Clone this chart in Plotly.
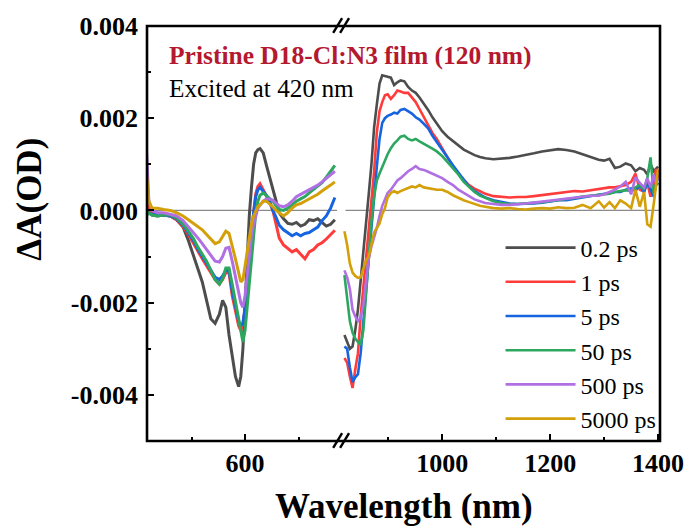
import plotly.graph_objects as go

# ---------------- data (ΔA in units of 1e-3 OD) ----------------
labels = ["0.2 ps", "1 ps", "5 ps", "50 ps", "500 ps", "5000 ps"]
colors = ["#4D4D4D", "#FF3B3B", "#1764E0", "#2DA760", "#B06FE3", "#D4A00A"]

wl_vis = [508, 510, 513, 518, 524, 530, 536, 542, 547, 552, 556, 560, 564, 568, 572, 576, 579, 582,
          585, 588, 591, 594, 596, 598, 600, 602, 604, 606, 608, 610, 612, 614, 617, 620, 623, 626,
          629, 632, 636, 640, 644, 648, 652, 656, 660, 664, 668, 672, 676, 680, 684]

vis_02ps = [0.0, -0.05, -0.1, -0.12, -0.1, -0.12, -0.2, -0.36, -0.65, -0.98, -1.25, -1.55, -1.95, -2.35,
            -2.45, -2.25, -1.95, -2.1, -2.7, -3.2, -3.6, -3.82, -3.6, -3.0, -2.0, -0.95, -0.1, 0.5, 1.0,
            1.25, 1.32, 1.34, 1.25, 0.98, 0.72, 0.5, 0.2, -0.05, -0.18, -0.28, -0.3, -0.26, -0.34, -0.3,
            -0.2, -0.22, -0.18, -0.26, -0.34, -0.3, -0.2]
vis_1ps = [0.2, 0.05, -0.05, -0.08, -0.1, -0.12, -0.2, -0.35, -0.52, -0.72, -0.9, -1.05, -1.2, -1.35,
           -1.5, -1.6, -1.5, -1.35, -1.35, -1.85, -2.2, -2.5, -2.6, -2.45, -2.15, -1.7, -1.08, -0.5,
           -0.05, 0.36, 0.52, 0.58, 0.45, 0.32, 0.18, 0.0, -0.28, -0.6, -0.75, -0.82, -0.9, -0.85,
           -0.95, -1.05, -0.9, -0.85, -0.75, -0.7, -0.62, -0.52, -0.43]
vis_5ps = [-0.1, -0.05, -0.08, -0.1, -0.1, -0.12, -0.18, -0.32, -0.48, -0.66, -0.84, -1.0, -1.15, -1.3,
           -1.45, -1.5, -1.42, -1.3, -1.3, -1.75, -2.1, -2.4, -2.5, -2.45, -2.1, -1.6, -1.0, -0.45,
           -0.05, 0.3, 0.45, 0.5, 0.42, 0.32, 0.2, 0.0, -0.15, -0.32, -0.42, -0.48, -0.55, -0.5,
           -0.55, -0.5, -0.48, -0.42, -0.36, -0.22, -0.12, 0.05, 0.28]
vis_50ps = [-0.1, -0.05, -0.1, -0.12, -0.1, -0.1, -0.16, -0.3, -0.45, -0.62, -0.8, -0.95, -1.1, -1.3,
            -1.5, -1.6, -1.48, -1.25, -1.25, -1.6, -2.0, -2.35, -2.6, -2.85, -2.6, -2.1, -1.5, -0.95,
            -0.45, -0.05, 0.2, 0.33, 0.38, 0.32, 0.28, 0.2, 0.1, 0.02, 0.0, 0.05, 0.12, 0.2, 0.25,
            0.3, 0.38, 0.45, 0.52, 0.6, 0.72, 0.85, 0.98]
vis_500ps = [1.25, 0.2, 0.0, -0.05, -0.05, -0.08, -0.12, -0.22, -0.35, -0.48, -0.6, -0.72, -0.85,
             -0.98, -1.1, -1.12, -1.0, -0.82, -0.8, -1.1, -1.45, -1.8, -2.0, -2.1, -1.85, -1.4,
             -0.95, -0.55, -0.3, -0.1, 0.05, 0.12, 0.2, 0.25, 0.25, 0.22, 0.15, 0.1, 0.08, 0.12,
             0.2, 0.3, 0.35, 0.4, 0.45, 0.5, 0.55, 0.62, 0.7, 0.78, 0.85]
vis_5000ps = [0.75, 0.2, 0.05, 0.05, 0.02, 0.0, -0.05, -0.12, -0.2, -0.28, -0.35, -0.42, -0.52, -0.62,
              -0.72, -0.68, -0.55, -0.45, -0.5, -0.75, -1.05, -1.35, -1.55, -1.5, -1.2, -0.85,
              -0.55, -0.3, -0.12, 0.0, 0.08, 0.12, 0.2, 0.2, 0.15, 0.08, 0.0, -0.05, -0.12, -0.05,
              0.05, 0.12, 0.15, 0.2, 0.25, 0.3, 0.35, 0.42, 0.48, 0.55, 0.62]

wl_nir = [819, 824, 829, 834, 839, 844, 849, 854, 859, 864, 869, 874, 879, 884, 889, 894, 899, 905,
          911, 917, 923, 930, 937, 944, 951, 958, 966, 974, 982, 990, 1000, 1010, 1020, 1030, 1040,
          1050, 1060, 1070, 1080, 1095, 1110, 1125, 1140, 1155, 1170, 1185, 1200, 1215, 1230, 1245,
          1260, 1275, 1290, 1300, 1310, 1320, 1330, 1340, 1350, 1358, 1366, 1374, 1380, 1386, 1392,
          1396, 1400]

nir_02ps = [-2.7, -2.85, -3.0, -2.95, -2.6, -2.15, -1.55, -1.0, -0.3, 0.35, 1.0, 1.8, 2.3, 2.75, 2.93,
            2.92, 2.9, 2.88, 2.72, 2.78, 2.82, 2.8, 2.68, 2.6, 2.55, 2.45, 2.32, 2.18, 2.02, 1.88,
            1.72, 1.6, 1.5, 1.4, 1.32, 1.26, 1.2, 1.16, 1.13, 1.11, 1.12, 1.14, 1.17, 1.2, 1.24,
            1.28, 1.31, 1.33, 1.31, 1.28, 1.22, 1.16, 1.1, 1.08, 1.12, 0.92, 0.95, 1.02, 0.98, 0.85,
            0.92, 0.88, 0.78, 1.0, 0.85, 0.9, 0.95]
nir_1ps = [-3.2, -3.3, -3.6, -3.85, -3.45, -3.1, -2.3, -1.7, -1.05, -0.45, 0.2, 0.85, 1.7, 2.15, 2.35,
           2.5, 2.52, 2.42, 2.5, 2.6, 2.58, 2.55, 2.55, 2.45, 2.35, 2.2, 2.02, 1.85, 1.68, 1.55,
           1.35, 1.15, 0.95, 0.8, 0.66, 0.55, 0.47, 0.42, 0.36, 0.31, 0.29, 0.28, 0.29, 0.29, 0.31,
           0.33, 0.35, 0.37, 0.4, 0.42, 0.41, 0.44, 0.46, 0.48, 0.5, 0.5, 0.53, 0.55, 0.62, 0.8,
           0.45, 0.4, 0.6, 0.3, 0.55, 0.9, 0.7]
nir_5ps = [-2.95, -3.0, -3.4, -3.72, -3.62, -3.55, -3.1, -2.5, -1.75, -1.05, -0.35, 0.3, 0.95, 1.55,
           1.9, 2.0, 2.05, 2.08, 2.12, 2.1, 2.18, 2.2, 2.15, 2.1, 2.02, 1.97, 1.88, 1.78, 1.62,
           1.48, 1.32, 1.15, 0.98, 0.82, 0.66, 0.52, 0.42, 0.35, 0.28, 0.22, 0.18, 0.15, 0.14,
           0.14, 0.15, 0.17, 0.2, 0.22, 0.22, 0.25, 0.28, 0.3, 0.33, 0.35, 0.37, 0.4, 0.4, 0.45,
           0.48, 0.42, 0.55, 0.4, 0.62, 0.45, 0.3, 0.55, 0.6]
nir_50ps = [-1.4, -1.9, -2.4, -2.65, -2.78, -2.85, -2.92, -2.6, -1.75, -0.95, -0.25, 0.3, 0.65, 0.8,
            0.95, 1.1, 1.22, 1.35, 1.45, 1.52, 1.6, 1.62, 1.55, 1.52, 1.55, 1.5, 1.45, 1.4, 1.34,
            1.28, 1.18, 1.05, 0.92, 0.78, 0.62, 0.5, 0.4, 0.32, 0.27, 0.2, 0.16, 0.14, 0.14, 0.15,
            0.16, 0.18, 0.2, 0.22, 0.25, 0.27, 0.3, 0.32, 0.33, 0.35, 0.36, 0.4, 0.42, 0.44, 0.42,
            0.5, 0.55, 0.45, 0.7, 1.15, 0.35, 0.55, 0.6]
nir_500ps = [-1.3, -1.45, -1.7, -2.15, -2.3, -2.4, -2.33, -2.05, -1.55, -1.05, -0.78, -0.6, -0.38,
             -0.12, 0.1, 0.24, 0.38, 0.45, 0.55, 0.65, 0.7, 0.78, 0.85, 0.9, 0.96, 0.9, 0.88, 0.84,
             0.8, 0.76, 0.7, 0.62, 0.55, 0.45, 0.38, 0.3, 0.24, 0.2, 0.16, 0.14, 0.12, 0.12, 0.13,
             0.15, 0.17, 0.19, 0.22, 0.24, 0.25, 0.27, 0.3, 0.32, 0.32, 0.35, 0.4, 0.45, 0.52, 0.62,
             0.35, 0.72, 0.6, 0.5, 0.7, 0.5, 0.78, 0.6, 0.7]
nir_5000ps = [-0.45, -0.75, -1.15, -1.35, -1.42, -1.46, -1.45, -1.25, -1.08, -1.0, -0.7, -0.48, -0.38,
              -0.28, -0.08, 0.05, 0.28, 0.38, 0.42, 0.38, 0.42, 0.45, 0.48, 0.52, 0.5, 0.55, 0.5,
              0.48, 0.47, 0.45, 0.45, 0.4, 0.33, 0.27, 0.22, 0.18, 0.14, 0.1, 0.08, 0.05, 0.04,
              0.05, 0.03, 0.02, 0.04, 0.05, 0.04, 0.07, 0.05, 0.06, 0.12, 0.05, 0.2, 0.06, 0.18,
              0.05, 0.22, 0.15, 0.05, 0.45, 0.08, 0.4, -0.3, -0.35, 0.15, 0.6, 0.9]

vis_series = [vis_02ps, vis_1ps, vis_5ps, vis_50ps, vis_500ps, vis_5000ps]
nir_series = [nir_02ps, nir_1ps, nir_5ps, nir_50ps, nir_500ps, nir_5000ps]

y_ticks = [-0.004, -0.002, 0.0, 0.002, 0.004]
y_ticktext = ["-0.004", "-0.002", "0.000", "0.002", "0.004"]

# ---------------- geometry ----------------
W, H = 696, 531
L, R, T, B = 147, 31, 25, 90
PW, PH = W - L - R, H - T - B
BREAK_PX = 342
split = (BREAK_PX - L) / PW
VIS_RANGE = [508.3, 688.9]
NIR_RANGE = [811.0, 1403.5]

def px(x):
    return (x - L) / PW

def py(y):
    return (H - B - y) / PH

FONT = "Liberation Serif"

fig = go.Figure()
for i, lab in enumerate(labels):
    fig.add_trace(go.Scatter(x=wl_vis, y=[v * 1e-3 for v in vis_series[i]], mode="lines",
                             line=dict(color=colors[i], width=3.0), name=lab,
                             xaxis="x", yaxis="y", showlegend=False))
    fig.add_trace(go.Scatter(x=wl_nir, y=[v * 1e-3 for v in nir_series[i]], mode="lines",
                             line=dict(color=colors[i], width=2.6), name=lab,
                             xaxis="x2", yaxis="y", showlegend=True))

tickfont = dict(family=FONT, size=26, color="black", weight="bold")

shapes = [
    # zero reference lines
    dict(type="line", xref="x", yref="y", x0=VIS_RANGE[0], x1=686, y0=0, y1=0,
         line=dict(color="#8A8A8A", width=1.3), layer="below"),
    dict(type="line", xref="x2", yref="y", x0=821, x1=NIR_RANGE[1], y0=0, y1=0,
         line=dict(color="#8A8A8A", width=1.3), layer="below"),
    # frame
    dict(type="rect", xref="paper", yref="paper", x0=0, x1=1, y0=0, y1=1,
         line=dict(color="black", width=2.6), layer="above"),
]
# axis break marks
for (yb, yt) in [(448, 433), (32, 17)]:
    for dx in (0, 7):
        shapes.append(dict(type="line", xref="paper", yref="paper",
                           x0=px(335 + dx), y0=py(yb), x1=px(344 + dx), y1=py(yt),
                           line=dict(color="black", width=2.4)))

annotations = [
    dict(text="<b>Pristine D18-Cl:N3 film (120 nm)</b>", xref="paper", yref="paper",
         x=px(167), y=py(55), xanchor="left", yanchor="middle", showarrow=False,
         font=dict(family=FONT, size=25.5, color="#B5192F")),
    dict(text="Excited at 420 nm", xref="paper", yref="paper",
         x=px(167), y=py(87), xanchor="left", yanchor="middle", showarrow=False,
         font=dict(family=FONT, size=25.3, color="black")),
    dict(text="<b>Wavelength (nm)</b>", xref="paper", yref="paper",
         x=px(406), y=py(507), xanchor="center", yanchor="middle", showarrow=False,
         font=dict(family=FONT, size=35, color="black")),
    dict(text="<b>ΔA(OD)</b>", xref="paper", yref="paper", textangle=-90,
         x=px(28), y=py(199), xanchor="center", yanchor="middle", showarrow=False,
         font=dict(family=FONT, size=35, color="black")),
]

fig.update_layout(
    width=W, height=H,
    margin=dict(l=L, r=R, t=T, b=B),
    paper_bgcolor="white", plot_bgcolor="white",
    showlegend=True,
    legend=dict(x=px(504), y=py(225), xanchor="left", yanchor="top",
                bgcolor="rgba(0,0,0,0)", itemwidth=70,
                font=dict(family=FONT, size=24, color="black")),
    xaxis=dict(domain=[0, split], range=VIS_RANGE, anchor="y",
               tickmode="array", tickvals=[600], ticktext=["600"],
               ticks="inside", ticklen=7, tickwidth=2, tickcolor="black",
               minor=dict(tickmode="array", tickvals=[550, 650], ticks="inside",
                          ticklen=4, tickwidth=2, tickcolor="black", showgrid=False),
               showgrid=False, zeroline=False, showline=False,
               tickfont=tickfont, ticklabelstandoff=4),
    xaxis2=dict(domain=[split, 1], range=NIR_RANGE, anchor="y",
                tickmode="array", tickvals=[1000, 1200, 1400], ticktext=["1000", "1200", "1400"],
                ticks="inside", ticklen=7, tickwidth=2, tickcolor="black",
                minor=dict(tickmode="array", tickvals=[900, 1100, 1300], ticks="inside",
                           ticklen=4, tickwidth=2, tickcolor="black", showgrid=False),
                showgrid=False, zeroline=False, showline=False,
                tickfont=tickfont, ticklabelstandoff=4),
    yaxis=dict(domain=[0, 1], range=[-0.005, 0.004], anchor="x",
               tickmode="array", tickvals=y_ticks, ticktext=y_ticktext,
               ticks="inside", ticklen=7, tickwidth=2, tickcolor="black",
               minor=dict(tickmode="array", tickvals=[-0.003, -0.001, 0.001, 0.003],
                          ticks="inside", ticklen=4, tickwidth=2, tickcolor="black",
                          showgrid=False),
               showgrid=False, zeroline=False, showline=False,
               tickfont=tickfont, ticklabelstandoff=8),
    shapes=shapes,
    annotations=annotations,
)

fig.write_html("out.html")
